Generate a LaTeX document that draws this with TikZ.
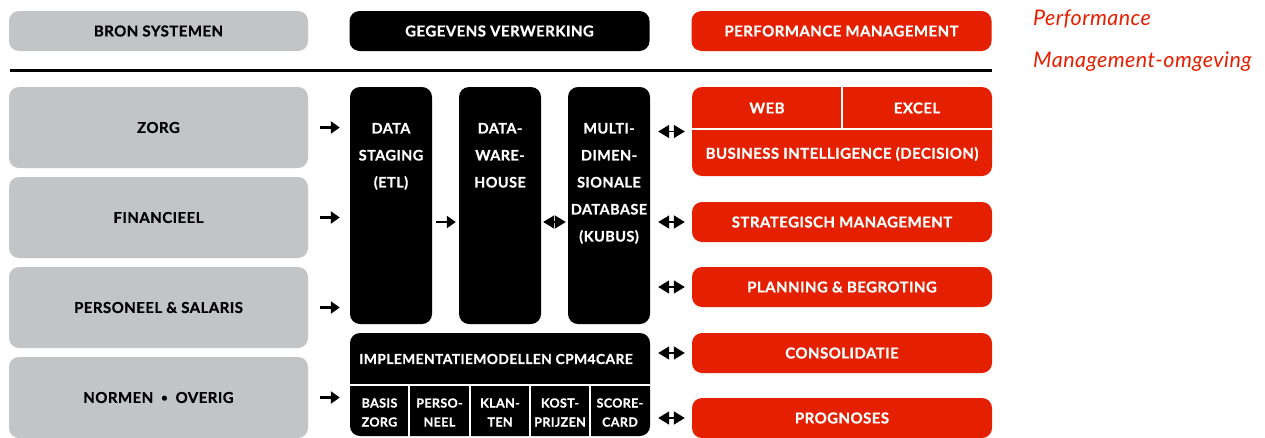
\documentclass[tikz,border=0pt]{standalone}
\usepackage{fontspec}
\setmainfont{Lato}
\newfontfamily\heavyfont{Lato}[BoldFeatures={FakeBold=0.7, LetterSpace=3}]
\newfontfamily\sidefont{Lato}[ItalicFeatures={LetterSpace=2}]
\usetikzlibrary{arrows.meta,calc}
\definecolor{grayb}{RGB}{194,196,198}
\definecolor{redb}{RGB}{228,32,0}
\newcommand{\boxfont}{\fontsize{15}{18}\selectfont\heavyfont\bfseries}
\newcommand{\colfont}{\fontsize{14.5}{27}\selectfont\heavyfont\bfseries}
\newcommand{\cellfont}{\fontsize{12.5}{19}\selectfont\heavyfont\bfseries}
\tikzset{
 box/.style={rounded corners=10pt, minimum width=299pt, minimum height=40pt, inner sep=0pt, font=\boxfont, align=center},
 graybox/.style={box, fill=grayb, text=black},
 blackbox/.style={box, fill=black, text=white},
 redbox/.style={box, fill=redb, text=white},
 col/.style={fill=black, rounded corners=10pt, minimum width=82pt, minimum height=237pt, inner sep=0pt},
 coltext/.style={text=white, font=\colfont, align=center, anchor=north, inner sep=0pt},
 celltext/.style={text=white, font=\cellfont, align=center, inner sep=0pt},
 lbl/.style={text=white, font=\boxfont, inner sep=0pt},
 arr/.style={line width=2.8pt, -{Triangle[length=9pt,width=12pt]}},
 darr/.style={line width=1.5pt, {Triangle[length=11pt,width=13pt]}-{Triangle[length=11pt,width=13pt]}},
 sepline/.style={draw=white, line width=1.5pt},
 side/.style={text=redb, font=\fontsize{21.5}{24}\selectfont\sidefont\itshape, anchor=west, inner sep=0pt}
}
\begin{document}
\begin{tikzpicture}[x=1pt,y=-1pt]
\fill[white] (0,0) rectangle (1265,437);
\useasboundingbox (0,0) rectangle (1265,437);
% headers
\node[graybox, minimum width=299pt] (hbron) at (158.5,31) {BRON SYSTEMEN};
\node[blackbox, minimum width=300pt] (hgeg) at (499.5,31) {GEGEVENS VERWERKING};
\node[redbox, minimum width=300pt] (hperf) at (841.5,31) {PERFORMANCE MANAGEMENT};
\coordinate (lineL) at (10,70);
\coordinate (lineR) at (992,70);
\draw[line width=3pt] (lineL) -- (lineR);
% side text
\node[side] (perf1) at (1033,19) {Performance};
\node[side] (perf2) at (1033,62) {Management-omgeving};
% source systems
\node[graybox, minimum height=81pt] (zorg) at (158.5,127.5) {ZORG};
\node[graybox, minimum height=81pt] (fin) at (158.5,217.5) {FINANCIEEL};
\node[graybox, minimum height=81pt] (pers) at (158.5,307.5) {PERSONEEL \& SALARIS};
\node[graybox, minimum height=81pt] (norm) at (158.5,397.5) {NORMEN\hspace{8pt}\raisebox{1.5pt}{\fontsize{11}{11}\selectfont •}\hspace{8pt}OVERIG};
% processing columns
\node[col] (staging) at (391,205.5) {};
\node[col] (wh) at (500,205.5) {};
\node[col] (multi) at (609,205.5) {};
\node[coltext] (stagingT) at ([yshift=-36pt]staging.north) {DATA\\STAGING\\(ETL)};
\node[coltext] (whT) at ([yshift=-36pt]wh.north) {DATA-\\WARE-\\HOUSE};
\node[coltext] (multiT) at ([yshift=-36pt]multi.north) {MULTI-\\DIMEN-\\SIONALE\\DATABASE\\(KUBUS)};
% implementation models
\node[fill=black, rounded corners=10pt, minimum width=300pt, minimum height=103pt, inner sep=0pt] (impl) at (500,384.5) {};
\node[lbl, font=\fontsize{13.8}{16}\selectfont\heavyfont\bfseries] (implT) at (496,359) {IMPLEMENTATIEMODELLEN CPM4CARE};
\coordinate (iL) at (350,385);
\coordinate (iR) at (650,385);
\draw[sepline] (iL) -- (iR);
\foreach \x/\n in {409/a,470/b,530/c,590/d}{
  \coordinate (t\n) at (\x,385);
  \coordinate (b\n) at (\x,437);
  \draw[sepline] (t\n) -- (b\n);
}
\node[celltext] (c1) at (379.5,412.5) {BASIS\\ZORG};
\node[celltext] (c2) at (439.5,412.5) {PERSO-\\NEEL};
\node[celltext] (c3) at (500,412.5) {KLAN-\\TEN};
\node[celltext] (c4) at (560,412.5) {KOST-\\PRIJZEN};
\node[celltext] (c5) at (620,412.5) {SCORE-\\CARD};
% performance management
\node[redbox, minimum width=300pt, minimum height=89pt] (bi) at (842,131.5) {};
\coordinate (biL) at (692,129);
\coordinate (biR) at (992,129);
\coordinate (biT) at (842,87);
\coordinate (biM) at (842,129);
\draw[sepline] (biL) -- (biR);
\draw[sepline] (biT) -- (biM);
\node[lbl] (web) at (767,108) {WEB};
\node[lbl] (excel) at (917,108) {EXCEL};
\node[lbl] (biT2) at (842,154) {BUSINESS INTELLIGENCE (DECISION)};
\node[redbox, minimum width=300pt] (strat) at (842,222) {STRATEGISCH MANAGEMENT};
\node[redbox, minimum width=300pt] (plan) at (842,287) {PLANNING \& BEGROTING};
\node[redbox, minimum width=300pt] (cons) at (842,353) {CONSOLIDATIE};
\node[redbox, minimum width=300pt] (prog) at (842,418) {PROGNOSES};
% arrows
\foreach \s in {zorg,fin,pers}{
  \draw[arr, shorten <=12pt, shorten >=10pt] (\s.east) -- (\s.east -| staging.west);
}
\draw[arr, shorten <=12pt, shorten >=10pt] (norm.east) -- (norm.east -| impl.west);
\draw[arr, shorten <=4pt, shorten >=3pt] (staging.east |- strat.west) -- (wh.west |- strat.west);
\draw[darr, shorten <=2pt, shorten >=2pt] (wh.east |- strat.west) -- (multi.west |- strat.west);
\draw[darr, shorten <=8pt, shorten >=7pt] (multi.east |- bi.west) -- (bi.west);
\draw[darr, shorten <=8pt, shorten >=7pt] (multi.east |- strat.west) -- (strat.west);
\draw[darr, shorten <=8pt, shorten >=7pt] (multi.east |- plan.west) -- (plan.west);
\draw[darr, shorten <=8pt, shorten >=7pt] (impl.east |- cons.west) -- (cons.west);
\draw[darr, shorten <=8pt, shorten >=7pt] (impl.east |- prog.west) -- (prog.west);
\end{tikzpicture}
\end{document}
